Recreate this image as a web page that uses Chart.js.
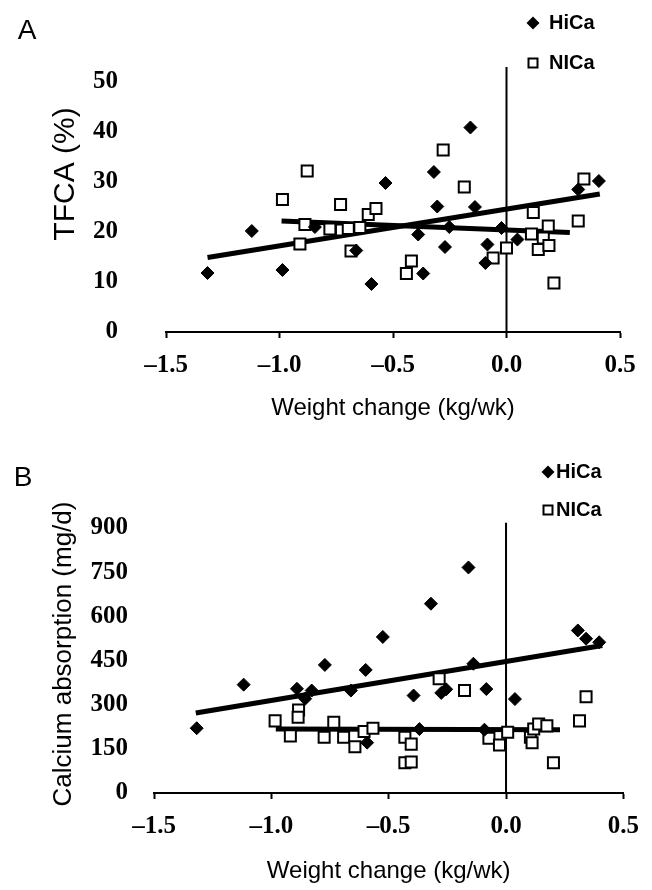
<!DOCTYPE html>
<html>
<head>
<meta charset="utf-8">
<script src="https://cdn.jsdelivr.net/npm/chart.js@4.4.1/dist/chart.umd.min.js"></script>
<style>
  html, body { margin: 0; padding: 0; background: #fff; }
  .panel { position: absolute; left: 0; width: 652px; height: 445px; }
  canvas { display: block; }
</style>
</head>
<body>
<div class="panel" style="top:0"><canvas id="chartA" width="652" height="445"></canvas></div>
<div class="panel" style="top:445px"><canvas id="chartB" width="652" height="445"></canvas></div>
<script>
// weight change (kg/wk) vs outcome, [x, y]
const hicaA = [[-1.317, 11.8], [-1.122, 20.2], [-0.987, 12.4], [-0.844, 21.0], [-0.662, 16.3],
  [-0.595, 9.6], [-0.533, 29.8], [-0.389, 19.5], [-0.367, 11.7], [-0.320, 32.0], [-0.305, 25.1],
  [-0.271, 17.0], [-0.252, 21.0], [-0.159, 40.9], [-0.139, 25.0], [-0.093, 13.8], [-0.084, 17.5],
  [-0.022, 20.8], [0.048, 18.5], [0.316, 28.5], [0.407, 30.2]];
const nicaA = [[-0.987, 26.5], [-0.878, 32.2], [-0.910, 17.6], [-0.888, 21.5], [-0.778, 20.6],
  [-0.731, 25.5], [-0.727, 20.4], [-0.697, 20.7], [-0.685, 16.2], [-0.646, 20.9], [-0.609, 23.5],
  [-0.575, 24.7], [-0.419, 14.2], [-0.441, 11.7], [-0.279, 36.4], [-0.186, 29.0], [-0.059, 14.8],
  [0.0, 16.8], [0.118, 23.9], [0.110, 19.6], [0.184, 21.2], [0.162, 18.8], [0.140, 16.5],
  [0.187, 17.3], [0.316, 22.2], [0.209, 9.8], [0.341, 30.6]];
const hicaFitA = [[-1.317, 14.9], [0.411, 27.6]];
const nicaFitA = [[-0.991, 22.2], [0.279, 19.9]];

const hicaB = [[-1.318, 220], [-1.118, 368], [-0.891, 354], [-0.856, 320], [-0.828, 348],
  [-0.772, 435], [-0.661, 348], [-0.598, 418], [-0.592, 171], [-0.525, 530], [-0.394, 331],
  [-0.369, 217], [-0.320, 643], [-0.276, 340], [-0.255, 352], [-0.160, 766], [-0.139, 439],
  [-0.092, 215], [-0.084, 353], [0.038, 319], [0.306, 552], [0.341, 524], [0.397, 512]];
const nicaB = [[-0.984, 245], [-0.884, 282], [-0.886, 257], [-0.919, 194], [-0.734, 240],
  [-0.775, 189], [-0.692, 189], [-0.644, 157], [-0.605, 209], [-0.567, 220], [-0.431, 189],
  [-0.404, 166], [-0.431, 103], [-0.404, 105], [-0.285, 388], [-0.177, 348], [-0.073, 186],
  [-0.028, 163], [0.007, 206], [0.104, 189], [0.118, 217], [0.139, 234], [0.174, 228],
  [0.111, 171], [0.202, 103], [0.313, 245], [0.341, 327]];
const hicaFitB = [[-1.322, 272], [0.410, 501]];
const nicaFitB = [[-0.981, 217], [0.230, 215]];

const zeroLineA = [[0, 0], [0, 53]];
const zeroLineB = [[0, 0], [0, 918]];

const xTicks = [-1.5, -1.0, -0.5, 0.0, 0.5];
const yTicksA = [0, 10, 20, 30, 40, 50];
const yTicksB = [0, 150, 300, 450, 600, 750, 900];

const pts = arr => arr.map(p => ({x: p[0], y: p[1]}));
const tickFont = {family: '"Liberation Serif", "Times New Roman", serif', size: 25, weight: 'bold'};
const sans = '"Liberation Sans", Arial, sans-serif';

// panel letter, rotated y title and the small legend
const panelDecor = {
  id: 'panelDecor',
  afterDraw(chart, args, o) {
    const ctx = chart.ctx;
    ctx.save();
    ctx.fillStyle = '#000';
    ctx.textBaseline = 'middle';
    ctx.font = '28px ' + sans;
    ctx.textAlign = 'center';
    ctx.fillText(o.letter, o.letterX, o.letterY);

    ctx.save();
    ctx.translate(o.titleX, o.titleY);
    ctx.rotate(-Math.PI / 2);
    ctx.font = o.titleSize + 'px ' + sans;
    ctx.fillText(o.title, 0, 0);
    ctx.restore();

    ctx.font = 'bold 20px ' + sans;
    ctx.textAlign = 'left';
    const ds = chart.data.datasets;
    // HiCa marker
    let y = o.legY1, x = o.legX;
    ctx.beginPath();
    ctx.moveTo(x - 6.5, y); ctx.lineTo(x, y - 6.5); ctx.lineTo(x + 6.5, y); ctx.lineTo(x, y + 6.5);
    ctx.closePath();
    ctx.fill();
    ctx.fillText(ds[0].label, o.legTextX, y);
    // NICa marker
    y = o.legY2;
    ctx.lineWidth = 2;
    ctx.strokeStyle = '#000';
    ctx.fillStyle = '#fff';
    ctx.fillRect(x - 4.5, y - 4.5, 9, 9);
    ctx.strokeRect(x - 4.5, y - 4.5, 9, 9);
    ctx.fillStyle = '#000';
    ctx.fillText(ds[1].label, o.legTextX, y);
    ctx.restore();
  }
};

function makeChart(id, cfg) {
  return new Chart(document.getElementById(id), {
    type: 'scatter',
    data: {
      datasets: [{
        label: 'HiCa',
        data: pts(cfg.hica),
        pointStyle: 'rectRot',
        pointRadius: 6.5,
        borderWidth: 1,
        borderColor: '#000',
        backgroundColor: '#000',
        order: 1
      }, {
        label: 'NICa',
        data: pts(cfg.nica),
        pointStyle: 'rect',
        pointRadius: 7.8,
        borderWidth: 2,
        borderColor: '#000',
        backgroundColor: '#fff',
        order: 2
      }, {
        label: 'HiCa fit',
        data: pts(cfg.hicaFit),
        showLine: true,
        pointRadius: 0,
        borderColor: '#000',
        borderWidth: 5,
        order: 3
      }, {
        label: 'NICa fit',
        data: pts(cfg.nicaFit),
        showLine: true,
        pointRadius: 0,
        borderColor: '#000',
        borderWidth: 5,
        order: 4
      }, {
        label: 'zero',
        data: pts(cfg.zero),
        showLine: true,
        pointRadius: 0,
        borderColor: '#000',
        borderWidth: 2,
        clip: false,
        order: 5
      }]
    },
    options: {
      responsive: false,
      animation: false,
      layout: {padding: {left: 0, top: cfg.top, right: cfg.right, bottom: 0}},
      plugins: {
        legend: {display: false},
        tooltip: {enabled: false},
        panelDecor: cfg.decor
      },
      scales: {
        x: {
          type: 'linear',
          min: -1.5,
          max: 0.5,
          afterBuildTicks: s => { s.ticks = xTicks.map(v => ({value: v})); },
          afterFit: s => { s.height = cfg.xHeight; },
          ticks: {
            font: tickFont,
            color: '#000',
            padding: 13,
            maxRotation: 0,
            callback: v => (v < 0 ? '\u2013' : '') + Math.abs(v).toFixed(1)
          },
          grid: {drawOnChartArea: false, drawTicks: true, tickLength: 6, tickColor: '#000', tickWidth: 2},
          border: {display: true, color: '#000', width: 2},
          title: {
            display: true,
            text: 'Weight change (kg/wk)',
            color: '#000',
            font: {family: sans, size: 24},
            padding: {top: 0, bottom: cfg.xTitlePad}
          }
        },
        y: {
          min: 0,
          max: cfg.yMax,
          afterBuildTicks: s => { s.ticks = cfg.yTicks.map(v => ({value: v})); },
          afterFit: s => { s.width = cfg.yWidth; },
          ticks: {font: tickFont, color: '#000', padding: cfg.yPad},
          grid: {display: false, drawTicks: false},
          border: {display: false}
        }
      }
    },
    plugins: [panelDecor]
  });
}

makeChart('chartA', {
  hica: hicaA, nica: nicaA, hicaFit: hicaFitA, nicaFit: nicaFitA, zero: zeroLineA,
  yMax: 50, yTicks: yTicksA,
  top: 82, right: 32, xHeight: 113, yWidth: 166, yPad: 48, xTitlePad: 22,
  decor: {letter: 'A', letterX: 27, letterY: 31, title: 'TFCA (%)', titleSize: 30, titleX: 66, titleY: 174,
    legX: 533, legTextX: 549, legY1: 23, legY2: 63}
});

makeChart('chartB', {
  hica: hicaB, nica: nicaB, hicaFit: hicaFitB, nicaFit: nicaFitB, zero: zeroLineB,
  yMax: 900, yTicks: yTicksB,
  top: 83, right: 19, xHeight: 97, yWidth: 154, yPad: 26, xTitlePad: 4,
  decor: {letter: 'B', letterX: 23, letterY: 33, title: 'Calcium absorption (mg/d)', titleSize: 26, titleX: 64, titleY: 209,
    legX: 548, legTextX: 556, legY1: 27, legY2: 65}
});
</script>
</body>
</html>
